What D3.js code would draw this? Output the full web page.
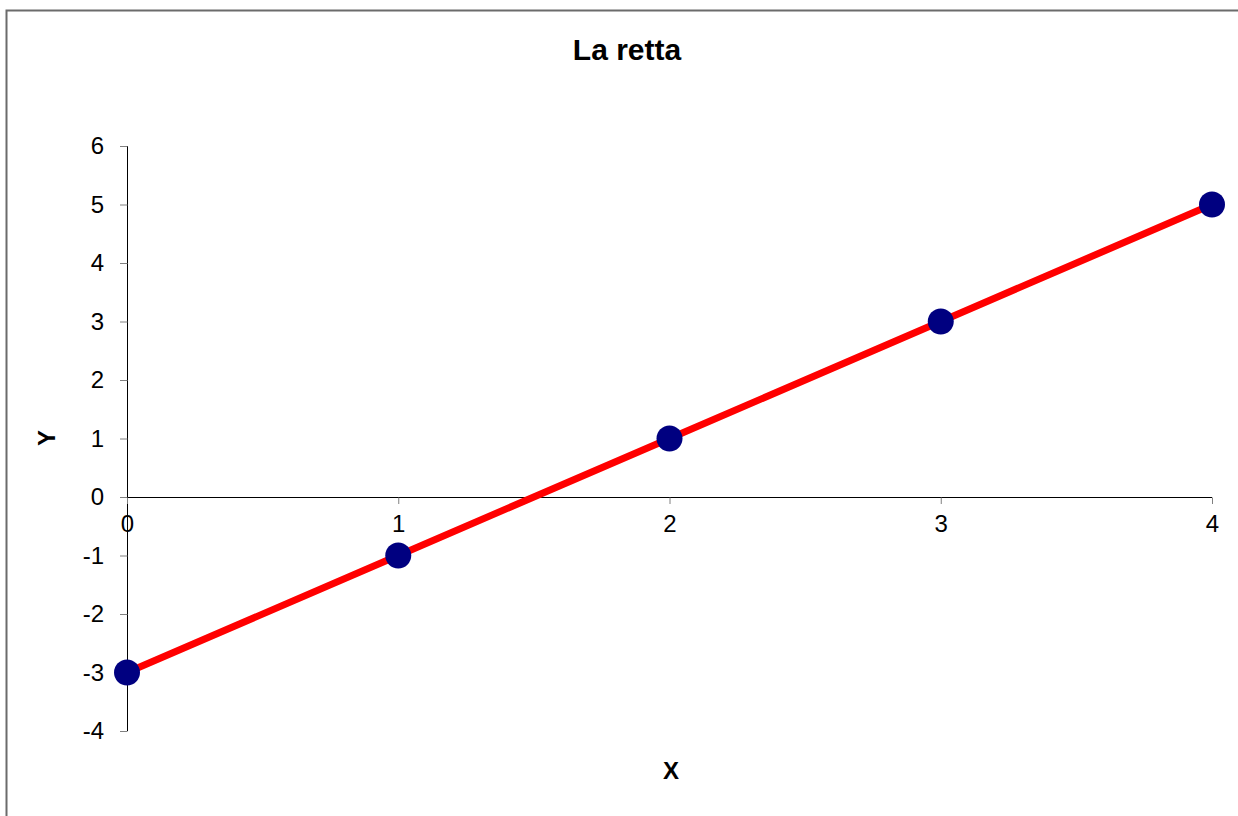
<!DOCTYPE html>
<html>
<head>
<meta charset="utf-8">
<script src="https://d3js.org/d3.v7.min.js"></script>
<style>
  html, body { margin: 0; padding: 0; background: #fff; }
  svg { display: block; }
  text { font-family: "Liberation Sans", Arial, sans-serif; }
</style>
</head>
<body>
<svg id="chart" width="1238" height="816"></svg>
<script>
// Points on the line y = 2x - 3
const xValues = [0, 1, 2, 3, 4];
const yValues = [-3, -1, 1, 3, 5];
const xTicks = [0, 1, 2, 3, 4];
const yTicks = [-4, -3, -2, -1, 0, 1, 2, 3, 4, 5, 6];
const chartTitle = "La retta";
const xTitle = "X";
const yTitle = "Y";

const W = 1238, H = 816;
const svg = d3.select("#chart");

// Chart area frame (runs off the right and bottom edges)
svg.append("rect")
  .attr("x", 6.5).attr("y", 10.5)
  .attr("width", W + 20).attr("height", H + 20)
  .attr("fill", "#fff")
  .attr("stroke", "#6b6b6b")
  .attr("stroke-width", 2);

const x = d3.scaleLinear().domain([0, 4]).range([127, 1212]);
const y = d3.scaleLinear().domain([-4, 6]).range([731, 146]);

// Plain hyphen for negatives
const fmt = d => String(d);

// Y axis
const yAxis = svg.append("g").attr("transform", `translate(${x(0)},0)`)
  .call(d3.axisLeft(y).tickValues(yTicks).tickSize(7).tickPadding(16).tickFormat(fmt));
yAxis.select(".domain").attr("stroke", "#000").attr("d", `M0.5,${y(6)}V${y(-4)}`);
yAxis.selectAll(".tick line").attr("stroke", "#808080").attr("x1", 0.5).attr("x2", -7);
yAxis.selectAll(".tick text")
  .style("font-size", "24px").attr("fill", "#000")
  .style("font-family", "'Liberation Sans', Arial, sans-serif");

// X axis through y = 0
const xAxis = svg.append("g").attr("transform", `translate(0,${y(0)})`)
  .call(d3.axisBottom(x).tickValues(xTicks).tickSize(7).tickPadding(11).tickFormat(fmt));
xAxis.select(".domain").attr("stroke", "#000").attr("d", `M${x(0)},0.5H${x(4)}`);
xAxis.selectAll(".tick line").attr("stroke", "#808080").attr("y1", 0.5);
xAxis.selectAll(".tick text")
  .style("font-size", "24px").attr("fill", "#000")
  .style("font-family", "'Liberation Sans', Arial, sans-serif");

// Series
const data = xValues.map((v, i) => ({ x: v, y: yValues[i] }));
svg.append("path")
  .datum(data)
  .attr("fill", "none")
  .attr("stroke", "#ff0000")
  .attr("stroke-width", 7)
  .attr("d", d3.line().x(d => x(d.x)).y(d => y(d.y)));

svg.append("g").selectAll("circle")
  .data(data)
  .join("circle")
  .attr("cx", d => x(d.x))
  .attr("cy", d => y(d.y))
  .attr("r", 13)
  .attr("fill", "#000080");

// Titles
svg.append("text")
  .attr("x", 627).attr("y", 60)
  .attr("text-anchor", "middle")
  .style("font-size", "30px").attr("font-weight", "bold")
  .text(chartTitle);

svg.append("text")
  .attr("x", 671).attr("y", 779)
  .attr("text-anchor", "middle")
  .style("font-size", "24px").attr("font-weight", "bold")
  .text(xTitle);

svg.append("text")
  .attr("transform", `translate(55,438) rotate(-90)`)
  .attr("text-anchor", "middle")
  .style("font-size", "24px").attr("font-weight", "bold")
  .text(yTitle);
</script>
</body>
</html>
